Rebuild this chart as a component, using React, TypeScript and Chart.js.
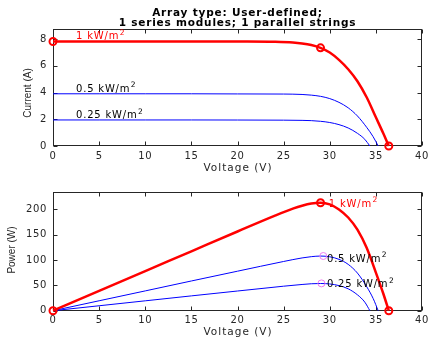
import React, { useEffect, useRef } from 'react';
import { Chart, registerables } from 'chart.js';

Chart.register(...registerables);

// ---- data ----
const xTicks = [0, 5, 10, 15, 20, 25, 30, 35, 40];
const currentTicks = [0, 2, 4, 6, 8];
const powerTicks = [0, 50, 100, 150, 200];

// 1 kW/m2
const voltage1 = [0, 5, 10, 15, 20, 24, 26, 27, 28, 29, 30, 31, 32, 33, 34, 35, 35.8, 36.4];
const current1 = [7.83, 7.83, 7.83, 7.83, 7.82, 7.8, 7.75, 7.68, 7.56, 7.35, 7.0, 6.45, 5.75, 4.85, 3.65, 2.15, 0.95, 0];
const power1 = [0, 39.1, 78.2, 117.3, 156.4, 187.2, 201.5, 207.4, 211.7, 213.2, 210, 200, 184, 160, 124.1, 75.3, 34, 0];

// 0.5 kW/m2
const voltage2 = [0, 5, 10, 15, 20, 25, 27, 28, 29, 30, 31, 32, 33, 34, 34.7, 35.25];
const current2 = [3.91, 3.91, 3.91, 3.91, 3.9, 3.89, 3.86, 3.81, 3.72, 3.55, 3.27, 2.86, 2.25, 1.4, 0.7, 0];
const power2 = [0, 19.6, 39.1, 58.7, 78, 97.2, 104.2, 106.7, 107.9, 106.5, 101.4, 91.5, 74.3, 47.6, 24.3, 0];

// 0.25 kW/m2
const voltage3 = [0, 5, 10, 15, 20, 25, 27, 28, 29, 30, 31, 32, 33, 33.8, 34.35];
const current3 = [1.95, 1.95, 1.95, 1.95, 1.945, 1.935, 1.92, 1.9, 1.85, 1.76, 1.6, 1.35, 0.95, 0.5, 0];
const power3 = [0, 9.75, 19.5, 29.25, 38.9, 48.4, 51.8, 53.2, 53.7, 52.8, 49.6, 43.2, 31.4, 16.9, 0];

// marked points
const ivMarkV = [0, 29, 36.4];
const ivMarkI = [7.83, 7.35, 0];
const pvMarkV = [0, 29, 36.4];
const pvMarkP = [0, 213.2, 0];
const mppMarkV = [29.3, 29.1];
const mppMarkP = [108, 53.9];

const irradianceLabels = ['1 kW/m', '0.5 kW/m', '0.25 kW/m'];
const irradianceSup = '2';
const titleLines = ['Array type: User-defined;', '1 series modules; 1 parallel strings'];

const RED = '#ff0000';
const BLUE = '#0000ff';
const MAGENTA = '#f07cf0';
const AXIS = '#262626';
const W = 429;
const H = 337;

const pts = (xs: number[], ys: number[]) => xs.map((x, i) => ({ x, y: ys[i] }));

type TextSpec = {
  text: string;
  sup?: string;
  x: number;
  y: number;
  data?: boolean;
  font: string;
  color: string;
  align?: CanvasTextAlign;
  baseline?: CanvasTextBaseline;
  spacing?: number;
  rotate?: boolean;
};

function framePlugin(texts: TextSpec[]) {
  return {
    id: 'frame',
    beforeDraw(chart: any) {
      chart.ctx.letterSpacing = '0.6px';
    },
    beforeDatasetsDraw(chart: any) {
      const { ctx, chartArea: a, scales } = chart;
      ctx.save();
      ctx.strokeStyle = AXIS;
      ctx.lineWidth = 1;
      const L = Math.round(a.left) + 0.5;
      const R = Math.round(a.right) - 0.5;
      const T = Math.round(a.top) + 0.5;
      const B = Math.round(a.bottom) - 0.5;
      ctx.strokeRect(L, T, R - L, B - T);
      ctx.beginPath();
      scales.x.ticks.forEach((t: any) => {
        const px = Math.round(scales.x.getPixelForValue(t.value)) + 0.5;
        ctx.moveTo(px, B); ctx.lineTo(px, B - 4);
        ctx.moveTo(px, T); ctx.lineTo(px, T + 4);
      });
      scales.y.ticks.forEach((t: any) => {
        const py = Math.round(scales.y.getPixelForValue(t.value)) + 0.5;
        ctx.moveTo(L, py); ctx.lineTo(L + 4, py);
        ctx.moveTo(R, py); ctx.lineTo(R - 4, py);
      });
      ctx.stroke();
      ctx.restore();
    },
    afterDraw(chart: any) {
      const { ctx, scales } = chart;
      texts.forEach((t) => {
        ctx.save();
        const x = t.data ? scales.x.getPixelForValue(t.x) : t.x;
        const y = t.data ? scales.y.getPixelForValue(t.y) : t.y;
        ctx.font = t.font;
        ctx.fillStyle = t.color;
        ctx.letterSpacing = (t.spacing ?? 0) + 'px';
        ctx.textAlign = t.align ?? 'left';
        ctx.textBaseline = t.baseline ?? 'alphabetic';
        ctx.translate(x, y);
        if (t.rotate) ctx.rotate(-Math.PI / 2);
        ctx.fillText(t.text, 0, 0);
        if (t.sup) {
          const w = ctx.measureText(t.text).width;
          ctx.font = '7.5px "DejaVu Sans"';
          ctx.letterSpacing = '0px';
          ctx.fillText(t.sup, w + 0.5, -4.5);
        }
        ctx.restore();
      });
    },
  };
}

const tickFont = { family: 'DejaVu Sans', size: 10 };

function xScale(height: number) {
  return {
    type: 'linear',
    min: 0,
    max: 40,
    afterBuildTicks: (s: any) => { s.ticks = xTicks.map((v) => ({ value: v })); },
    afterFit: (s: any) => { s.height = height; s.paddingLeft = 0; s.paddingRight = 0; },
    grid: { display: false, drawTicks: false },
    border: { display: false },
    ticks: { font: tickFont, color: AXIS, padding: 4, maxRotation: 0, autoSkip: false },
  };
}

function yScale(max: number, ticks: number[]) {
  return {
    type: 'linear',
    min: 0,
    max,
    afterBuildTicks: (s: any) => { s.ticks = ticks.map((v) => ({ value: v })); },
    afterFit: (s: any) => { s.width = 53; s.paddingTop = 0; s.paddingBottom = 0; },
    grid: { display: false, drawTicks: false },
    border: { display: false },
    ticks: { font: tickFont, color: AXIS, padding: 6, autoSkip: false },
  };
}

const lineDs = (data: any, color: string, width: number) => ({
  data,
  showLine: true,
  borderColor: color,
  borderWidth: width,
  pointRadius: 0,
  fill: false,
  cubicInterpolationMode: 'monotone',
  clip: false,
});

const markDs = (data: any, color: string, radius: number, width: number) => ({
  data,
  showLine: false,
  borderColor: color,
  backgroundColor: 'rgba(0,0,0,0)',
  pointBackgroundColor: 'rgba(0,0,0,0)',
  pointBorderColor: color,
  pointBorderWidth: width,
  pointRadius: radius,
  pointStyle: 'circle',
  clip: false,
});

const labelFont = '10px "DejaVu Sans"';
const axisTitleFont = '10.5px "DejaVu Sans"';
const vertFont = '10px "Liberation Sans", Arial, sans-serif';
const titleFont = 'bold 10.5px "DejaVu Sans"';

function topConfig(): any {
  const texts: TextSpec[] = [
    { text: titleLines[0], x: 237.5, y: 15.5, font: titleFont, color: '#000', align: 'center', spacing: 0.8 },
    { text: titleLines[1], x: 237.5, y: 25.5, font: titleFont, color: '#000', align: 'center', spacing: 0.8 },
    { text: 'Voltage (V)', x: 238, y: 171, font: axisTitleFont, color: AXIS, align: 'center', spacing: 1 },
    { text: 'Current (A)', x: 28.3, y: 93, font: vertFont, color: AXIS, align: 'center', baseline: 'middle', rotate: true },
    { text: irradianceLabels[0], sup: irradianceSup, x: 2.5, y: 7.98, data: true, font: labelFont, color: RED, spacing: 0.8 },
    { text: irradianceLabels[1], sup: irradianceSup, x: 2.5, y: 4.07, data: true, font: labelFont, color: '#000', spacing: 0.8 },
    { text: irradianceLabels[2], sup: irradianceSup, x: 2.5, y: 2.07, data: true, font: labelFont, color: '#000', spacing: 0.8 },
  ];
  return {
    type: 'scatter',
    data: {
      datasets: [
        markDs(pts(ivMarkV, ivMarkI), RED, 3.5, 2),
        lineDs(pts(voltage1, current1), RED, 2.5),
        lineDs(pts(voltage2, current2), BLUE, 1),
        lineDs(pts(voltage3, current3), BLUE, 1),
      ],
    },
    options: {
      responsive: false,
      animation: false,
      devicePixelRatio: 1,
      layout: { padding: { top: 28.5, left: 0, right: 7, bottom: H - 175 } },
      plugins: { legend: { display: false }, tooltip: { enabled: false }, title: { display: false } },
      scales: { x: xScale(29), y: yScale(8.8, currentTicks) },
      events: [],
    },
    plugins: [framePlugin(texts)],
  };
}

function bottomConfig(): any {
  const texts: TextSpec[] = [
    { text: 'Voltage (V)', x: 238, y: 334.5, font: axisTitleFont, color: AXIS, align: 'center', spacing: 1 },
    { text: 'Power (W)', x: 12.7, y: 250, font: vertFont, color: AXIS, align: 'center', baseline: 'middle', rotate: true },
    { text: irradianceLabels[0], sup: irradianceSup, x: 29.9, y: 205, data: true, font: labelFont, color: RED, spacing: 0.8 },
    { text: irradianceLabels[1], sup: irradianceSup, x: 29.7, y: 97, data: true, font: labelFont, color: '#000', spacing: 0.8 },
    { text: irradianceLabels[2], sup: irradianceSup, x: 29.7, y: 46, data: true, font: labelFont, color: '#000', spacing: 0.8 },
  ];
  return {
    type: 'scatter',
    data: {
      datasets: [
        markDs(pts(pvMarkV, pvMarkP), RED, 3.5, 2),
        markDs(pts(mppMarkV, mppMarkP), MAGENTA, 3.5, 1),
        lineDs(pts(voltage1, power1), RED, 2.5),
        lineDs(pts(voltage2, power2), BLUE, 1),
        lineDs(pts(voltage3, power3), BLUE, 1),
      ],
    },
    options: {
      responsive: false,
      animation: false,
      devicePixelRatio: 1,
      layout: { padding: { top: 191.7, left: 0, right: 7, bottom: 0 } },
      plugins: { legend: { display: false }, tooltip: { enabled: false }, title: { display: false } },
      scales: { x: xScale(26.3), y: yScale(235, powerTicks) },
      events: [],
    },
    plugins: [framePlugin(texts)],
  };
}

export default function App() {
  const topRef = useRef<HTMLCanvasElement>(null);
  const botRef = useRef<HTMLCanvasElement>(null);
  useEffect(() => {
    const c1 = new Chart(topRef.current as HTMLCanvasElement, topConfig());
    const c2 = new Chart(botRef.current as HTMLCanvasElement, bottomConfig());
    return () => {
      c1.destroy();
      c2.destroy();
    };
  }, []);
  return (
    <div style={{ position: 'fixed', left: 0, top: 0, width: W, height: H, background: '#fff' }}>
      <canvas ref={topRef} width={W} height={H} style={{ position: 'absolute', left: 0, top: 0 }} />
      <canvas ref={botRef} width={W} height={H} style={{ position: 'absolute', left: 0, top: 0 }} />
    </div>
  );
}
